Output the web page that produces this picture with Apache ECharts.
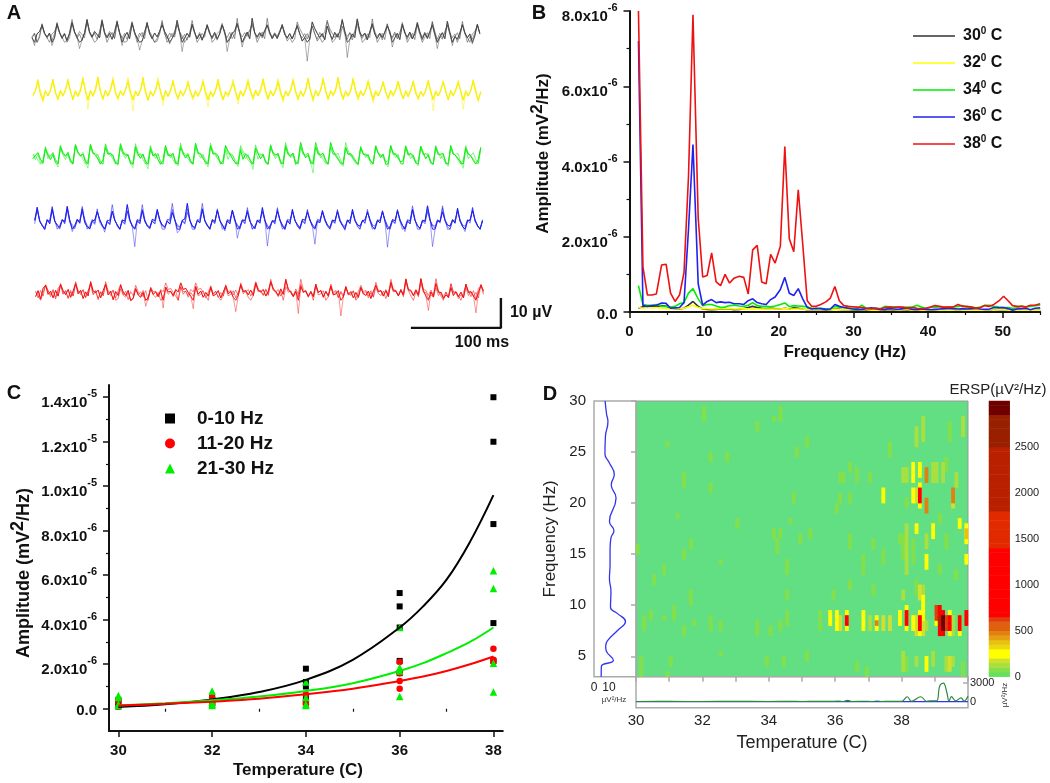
<!DOCTYPE html>
<html><head><meta charset="utf-8">
<style>html,body{margin:0;padding:0;background:#fff}#c{width:1050px;height:783px}#c canvas{filter:blur(.35px)}</style>
<script src="https://cdn.jsdelivr.net/npm/echarts@6/dist/echarts.min.js"></script>
</head><body><div id="c"></div>
<script>
// ---------- Panel A: voltage traces (uV around each baseline, one sample every sampleStepMs)
const sampleStepMs = 2.78;
const traceBlack = [-.8,-3.5,.4,1.2,3.2,.6,-.6,.7,-3.5,-.9,3.8,.9,-1.1,.4,-1.8,.5,4.2,1.0,-.7,-4.5,-1.6,.8,5.2,1.1,-.5,1.2,.2,-.9,4.8,.6,-.9,.6,-1.4,1.1,4.5,.8,-3.5,-.4,.9,-1.2,3.9,1.0,-1.0,-5.0,-2.0,.6,4.2,.4,-1.2,.7,-.6,1.3,3.4,1.2,-.3,-3.0,-1.1,.4,4.9,.9,-5.5,-1.0,.6,-.7,3.6,1.0,-1.3,.3,-1.7,.7,3.2,.5,-.8,.9,-1.2,.3,3.4,1.2,-5.5,-1.4,.5,1.4,3.9,.7,-4.0,-.6,1.0,-1.2,5.6,.8,-.6,.8,-.4,1.5,3.3,1.0,-1.2,.4,-1.0,.9,3.5,.2,-.9,.5,-1.3,.9,3.0,.6,-2.0,-.8,-8.7,-1.3,4.4,2.2,.6,-.8,.5,-1.6,3.0,.4,-1.4,.9,-.7,1.2,5.0,1.3,-7.5,-1.6,.4,-.8,5.4,1.0,-.4,.7,-1.6,1.1,3.8,.3,-1.1,.5,-.8,.9,3.0,1.2,-4.0,-.9,.6,-1.5,3.6,.7,-.7,1.0,-1.3,.4,4.2,1.1,-1.4,.6,-.9,1.2,3.4,.2,-4.5,-.7,.8,-1.2,4.6,.9,-3.5,-.5,-1.4,.7,3.4,.8,-.9,.4,-3.0,-.2,3.6,.4];
const traceYellow = [-.5,.8,3.8,-.4,-3.2,.6,-1.0,.7,4.6,.3,-1.8,.9,-.8,1.1,4.0,.6,-2.2,.3,-1.2,.6,4.8,.9,-5.4,.8,-.7,1.4,5.4,.4,-2.0,1.0,-1.1,.9,4.4,.2,-1.6,.5,-.6,1.2,3.6,-.2,-6.0,.7,-1.0,.8,5.2,.6,-2.4,.2,-.8,1.1,3.9,.7,-4.2,.9,-1.2,.5,4.2,.1,-1.8,.6,-.7,1.0,3.4,.5,-1.5,.8,-.9,.6,3.8,-.3,-4.6,.3,-1.3,.9,4.6,.8,-2.2,.4,-.6,1.2,3.2,.2,-3.8,.6,-1.1,.7,4.0,.5,-1.4,1.0,-.8,1.3,4.8,.9,-2.0,.5,-1.0,.5,3.6,-.1,-3.2,.7,-.7,1.1,4.2,.6,-1.6,.3,-1.2,.8,5.0,.4,-3.0,1.0,-.9,.9,4.4,.8,-1.8,.6,-.6,1.3,5.2,.2,-2.2,.4,-1.1,.6,4.6,.9,-1.4,.8,-.8,1.0,3.8,.5,-3.4,.2,-1.0,.7,3.4,.1,-1.6,.9,-.5,1.1,4.0,.7,-2.0,.5,-1.3,.8,3.6,-.2,-1.8,.6,-.7,.9,4.2,.8,-6.0,.3,-1.0,.6,3.8,.4,-2.2,.9,-.8,1.2,3.4,.6,-5.4,.5,-1.1,.8,4.4,.7,-3.0,.3];
const traceGreen = [-.6,.5,1.4,-.8,-2.0,2.6,.7,-.9,.8,-1.8,-3.4,3.4,1.2,.2,1.5,-1.0,-2.2,4.0,1.6,.4,.9,-1.6,-3.8,4.2,1.4,.6,-.7,-2.4,-1.0,3.2,.9,1.3,.2,-1.8,-2.8,4.4,1.8,.5,.7,-2.2,-3.6,3.4,1.0,-.5,.9,-1.4,-4.0,2.6,.3,1.1,-.9,-2.6,-1.2,3.8,.7,.3,1.2,-2.0,-3.0,3.2,1.4,-.4,.8,-1.2,-2.4,4.6,1.6,.9,-.6,-1.7,-3.4,3.6,.9,1.2,.4,-2.4,-1.4,3.8,1.9,.6,-1.0,-2.0,-3.2,2.2,-.8,1.0,.2,-1.2,-4.2,3.0,1.1,-.6,.8,-1.9,-2.6,4.0,1.3,.7,1.0,-1.5,-3.6,3.4,.8,.2,1.3,-2.6,-1.4,4.8,1.7,-.3,.6,-1.8,-5.4,3.4,.9,.7,1.2,-1.1,-2.4,4.8,2.0,.4,-.8,-2.2,-3.2,3.2,.8,1.1,-.4,-1.6,-2.8,3.0,1.0,.6,.5,-1.3,-2.2,3.6,1.4,-.2,.9,-2.4,-3.4,3.8,1.2,.8,-.5,-1.7,-1.2,3.2,.6,1.2,.3,-2.0,-3.0,3.6,1.5,-.6,.7,-1.5,-2.6,3.0,.8,.9,1.1,-2.2,-3.2,3.8,1.2,.4,-.7,-1.8,-3.8,2.8,.9,.4,-1.2,-2.4,-.9,3.2];
const traceBlue = [.5,4.9,.2,-1.2,-2.6,.8,-.6,4.2,.3,-1.0,-1.8,.6,.2,5.2,.7,-3.2,-1.2,.9,-.4,4.4,-.2,-1.6,-2.2,.4,.6,3.4,.8,-1.1,-3.4,.2,-.8,3.6,.5,-.9,-2.4,.7,.3,5.8,.9,-1.5,-8.2,.4,-.5,3.8,.2,-1.3,-2.0,.9,.4,4.2,.6,-1.0,-1.6,.3,-.7,3.2,.8,-3.6,-2.8,.6,1.0,6.2,.7,-1.4,-1.8,.5,-.3,4.4,.3,-1.2,-2.4,.8,.2,3.8,.5,-.9,-3.0,.4,-.6,4.0,.9,-5.4,-1.6,.7,.5,3.4,.2,-1.1,-2.2,.6,-.4,4.8,.6,-8.0,-1.4,.3,.3,3.6,.8,-1.3,-2.6,.5,-.7,4.2,.4,-.8,-2.0,.9,.6,3.2,.7,-1.5,-7.4,.2,-.2,3.8,.9,-1.0,-1.8,.6,.4,3.4,.3,-1.2,-2.8,.7,-.5,4.2,.6,-.9,-1.4,.4,.7,3.2,.8,-1.6,-2.4,.5,-.3,3.6,.2,-8.4,-1.6,.8,.4,3.8,.7,-1.1,-3.2,.3,-.6,4.2,.5,-1.3,-2.0,.6,.3,5.4,.9,-8.2,-2.6,.4,.1,3.4,.6,-1.0,-1.4,.8,-.4,4.6,.3,-1.5,-3.2,.5,.6,3.8,.7,-1.2,-2.4,.4];
const traceRed = [-1.2,.8,-2.0,1.6,2.6,-.4,.6,-1.6,.9,-1.0,2.8,.8,-.5,1.2,-1.4,.7,3.2,-.2,.9,-1.8,.4,-.9,3.8,.7,.2,1.0,-1.6,.8,3.0,-.6,.6,-2.2,.5,-.8,2.6,.4,-.8,.9,-2.6,-1.8,1.4,-.6,-1.4,.2,-4.4,-1.6,1.6,-.4,.4,-1.2,.8,-5.0,2.0,.4,.6,-.8,1.2,.4,3.4,1.2,1.6,.2,-1.0,-5.2,2.2,-.4,.7,-1.4,.2,-1.0,1.8,-.9,-.4,.8,-1.6,.3,2.4,-.2,.5,-1.4,-6.2,-.8,2.8,.4,.9,-.6,1.0,-.8,3.4,.9,.4,1.2,-1.0,.6,3.8,1.4,.6,-.8,1.4,-.4,4.6,1.2,.2,-1.2,.6,-6.8,2.2,.3,.7,-1.0,.4,-1.2,3.0,.2,.9,-1.4,.6,-.9,2.4,-.6,-.3,.8,-7.6,-1.2,2.0,-.4,.5,-1.6,.2,-1.4,1.8,-.2,-.8,.7,-1.8,.6,2.6,.4,.9,-1.0,.8,-1.2,3.6,.8,.6,-.9,1.2,-.6,4.6,1.2,.9,-.8,1.0,-.7,4.8,.8,-1.0,-5.8,.4,-1.2,3.2,.3,.2,-1.8,-.6,-1.4,1.8,-.8,.4,-1.2,.3,-1.6,3.0,.2,.5,-.9,-6.6,.2,2.6,.8];
const traceBaselinesUv = [103.3, 84, 62.7, 41, 17.3];
const traceStartMs = [0, 1, 1, 3, 4];
const scaleBarMs = [421, 521, 521];
const scaleBarUv = [5.7, 5.7, 15.7];

// ---------- Panel B: power spectra (x 10^-6 mV2/Hz)
const specFreq = [1.2,1.8,2.4,3.0,3.6,4.3,4.9,5.5,6.1,6.7,7.3,7.9,8.5,9.2,9.8,10.4,11.0,11.6,12.2,12.8,13.4,14.0,14.7,15.3,15.9,16.5,17.1,17.7,18.3,18.9,19.5,20.2,20.8,21.4,22.0,22.6,23.2,23.8,24.4,25.0,25.6,26.3,26.9,27.5,28.1,28.7,29.3,29.9,30.5,31.1,31.7,32.4,33.0,33.6,34.2,34.8,35.4,36.0,36.6,37.2,37.9,38.5,39.1,39.7,40.3,40.9,41.5,42.1,42.7,43.3,44.0,44.6,45.2,45.8,46.4,47.0,47.6,48.2,48.8,49.5,50.1,50.7,51.3,51.9,52.5,53.1,53.7,54.3,55.0];
const spec30 = [.1,.14,.13,.15,.14,.17,.16,.1,.09,.08,.1,.18,.28,.15,.08,.07,.06,.07,.08,.09,.08,.06,.07,.09,.12,.15,.12,.1,.09,.1,.09,.08,.1,.08,.11,.1,.08,.06,.07,.06,.06,.05,.06,.08,.07,.06,.06,.05,.05,.06,.05,.05,.05,.04,.05,.06,.05,.05,.06,.05,.05,.05,.05,.05,.05,.06,.05,.06,.05,.05,.06,.05,.05,.06,.05,.05,.05,.05,.06,.06,.07,.05,.04,.05,.05,.05,.04,.05,.05];
const spec32 = [.12,.1,.12,.11,.12,.1,.09,.08,.09,.09,.1,.14,.18,.12,.09,.09,.08,.08,.09,.09,.09,.08,.08,.09,.08,.09,.08,.08,.08,.08,.08,.08,.09,.08,.08,.08,.08,.07,.06,.06,.06,.06,.06,.07,.06,.06,.06,.06,.06,.06,.06,.05,.05,.05,.06,.06,.06,.05,.06,.06,.05,.06,.05,.05,.05,.06,.05,.05,.05,.05,.06,.05,.05,.05,.05,.05,.05,.06,.05,.06,.06,.05,.05,.05,.05,.05,.05,.05,.05];
const spec34 = [.7,.2,.18,.18,.2,.15,.15,.13,.15,.22,.25,.5,.62,.35,.17,.2,.2,.16,.12,.13,.17,.18,.16,.15,.18,.25,.17,.15,.15,.14,.16,.2,.24,.14,.17,.16,.15,.14,.1,.08,.1,.08,.08,.15,.13,.12,.1,.1,.09,.18,.1,.08,.1,.09,.15,.14,.14,.13,.12,.13,.13,.18,.13,.1,.12,.13,.14,.12,.13,.13,.15,.17,.12,.13,.11,.13,.18,.18,.15,.13,.12,.12,.1,.11,.16,.14,.15,.17,.18];
const spec36 = [7.2,.17,.15,.17,.18,.24,.23,.1,.11,.12,.25,2.2,4.45,.75,.18,.28,.33,.25,.27,.25,.26,.22,.22,.2,.3,.35,.25,.22,.2,.33,.4,.6,.92,.5,.44,.62,.35,.12,.08,.1,.09,.07,.08,.2,.15,.12,.1,.08,.07,.07,.09,.11,.09,.06,.07,.09,.08,.07,.09,.1,.07,.07,.08,.07,.06,.07,.08,.09,.1,.09,.08,.09,.08,.09,.1,.08,.07,.08,.12,.11,.12,.09,.05,.08,.09,.1,.06,.1,.11];
const spec38 = [8.0,1.2,.45,.45,.48,1.25,1.27,.5,.28,.45,1.05,3.6,7.9,2.5,.93,.97,1.57,.8,.7,1.0,.77,.9,.95,.92,.48,1.65,1.77,.8,.75,1.53,1.3,1.75,4.4,1.95,1.6,3.25,1.8,.3,.15,.15,.2,.27,.37,.68,.3,.17,.15,.14,.13,.12,.1,.09,.1,.08,.12,.13,.12,.13,.13,.1,.12,.1,.09,.1,.13,.17,.15,.13,.13,.13,.2,.15,.15,.13,.1,.12,.17,.15,.2,.3,.42,.3,.17,.15,.15,.13,.18,.18,.22];
const specNames = ['30° C','32° C','34° C','36° C','38° C'];
const specColors = ['#333333','#ffff00','#00ee00','#2222ee','#ee1111'];
const bMajorY = [0,2,4,6,8], bMinorY = [1,3,5,7];
const bMajorX = [0,10,20,30,40,50], bMinorX = [5,15,25,35,45,55];

// ---------- Panel C: band amplitude (x 10^-6 mV2/Hz)
const band0Points = [[30,.4],[30,.3],[30,.1],[32,.5],[32,.4],[32,.3],[32,.2],[34,1.8],[34,1.2],[34,1.0],[34,.5],[34,.3],[36,5.2],[36,4.6],[36,3.65],[36,2.15],[36,1.6],[38,14],[38,12],[38,8.3],[38,3.85],[38,2.15]];
const band1Points = [[30,.4],[30,.35],[30,.1],[32,.5],[32,.3],[32,.2],[34,.65],[34,.3],[34,.2],[36,2.1],[36,1.6],[36,1.25],[36,.9],[38,2.7],[38,2.2],[38,2.1]];
const band2Points = [[30,.6],[30,.5],[30,.2],[30,.15],[32,.8],[32,.3],[32,.2],[32,.15],[34,1.2],[34,.5],[34,.2],[34,.15],[36,3.65],[36,1.85],[36,1.7],[36,.55],[38,6.2],[38,5.4],[38,2.05],[38,.75]];
const fitTemp = [30,31,32,33,34,35,36,36.5,37,37.5,38];
const fit0 = [.08,.2,.42,.75,1.3,2.2,3.65,4.6,5.8,7.5,9.6];
const fit1 = [.15,.22,.32,.45,.65,.9,1.25,1.45,1.7,2.0,2.35];
const fit2 = [.15,.25,.38,.55,.8,1.15,1.7,2.05,2.5,3.0,3.65];
const cMajorY = [0,2,4,6,8,10,12,14], cMinorY = [1,3,5,7,9,11,13];
const cMajorX = [30,32,34,36,38], cMinorX = [31,33,35,37];

// ---------- Panel D: ERSP map; [temperature, freq low, freq high, uV2/Hz]
const ersp = [
[32.0,28,29.3,60],[34.3,28.4,29.2,60],[33.6,27.2,28,60],[34.1,28,28.4,60],[30.9,25.6,26,60],[32.2,24.2,25,60],[32.7,24.2,24.7,60],[31.4,21.8,22.6,60],[32.2,21.2,21.8,60],[31.2,18.5,19,60],[33.0,17.6,18.3,60],[34.1,16.8,17.4,60],[34.3,16.7,17.4,60],[34.2,15.4,16.1,60],[31.6,15.5,16.4,60],[31.4,14.6,15.5,60],[30.0,15,15.9,60],[32.5,14.1,14.5,60],[30.8,13.1,13.7,60],[30.5,12.1,12.7,60],[31.6,11.1,11.5,60],[31.6,10.4,10.6,60],[34.5,10.7,11.3,60],[34.5,13.4,14.3,60],[34.6,18,18.4,60],[31.1,8.5,9.7,60],[30.4,8.9,9.5,60],[30.2,7.9,8.7,60],[30.8,8.7,9,60],[31.4,7.1,7.9,60],[31.7,8.1,8.4,60],[32.2,7.7,8.6,60],[32.5,7.9,8.3,60],[33.6,7.2,8.5,60],[34.0,7,7.8,60],[34.3,7.5,8.5,60],[34.5,8,9.3,60],[32.5,5.1,5.5,60],[33.9,4,4.7,60],[34.4,4.3,5,60],[31.0,4,4.6,60],[30.1,3.1,4.7,60],[30.9,3.1,3.4,60],
[34.8,24.7,25.5,60],[35.1,25.9,26.5,60],[37.6,24.7,26,60],[38.4,25.7,27.3,120],[38.6,26.4,28.3,120],[39.4,26,28,90],[39.8,26.5,28.1,120],[36.4,23.3,23.9,60],[36.1,22,22.8,60],[36.2,22,23,60],[36.6,22,23.2,60],[37.0,22.2,23,60],[36.0,19.4,20,60],[36.4,20.2,21,60],[36.1,20.4,21,60],[34.7,20.4,21,60],[35.2,16.9,17.5,60],[34.9,16.2,16.7,60],[36.4,15.8,16.7,60],[37.1,15.9,16.4,60],[37.4,14.2,15.2,60],[36.8,13.4,14.6,60],[36.4,11.9,12.5,60],[35.9,10.6,11.5,60],[37.1,11.3,11.9,60],[35.1,4.6,5.2,60],[36.6,3.8,4.2,60],[36.9,3.3,3.9,60],
[35.5,7.6,9.2,90],[35.8,8,9.2,220],[36.0,7.9,9.1,230],[36.1,7.9,9,170],[36.3,7.6,9.2,230],[36.3,8,8.9,900],[36.8,7.9,9.2,230],[37.0,7.9,8.8,130],[37.2,7.6,8.6,240],[37.2,8,8.3,450],[37.4,7.9,9,150],[37.6,7.9,9,170],[37.9,8,9.2,230],
[38.1,7.7,9.6,230],[38.1,8.2,9.3,950],[38.3,7.6,9,230],[38.4,7.3,9,170],[38.5,7,9.2,230],[38.5,7.9,9,950],[38.6,8.7,10.9,230],[38.6,7.4,8.3,170],[38.7,7.7,8.4,120],
[39.0,8.5,9.6,650],[39.0,8.2,8.6,230],[39.1,7,9.6,950],[39.1,8,9,1800],[39.2,7,9.3,950],[39.2,7.6,8.7,2900],[39.3,7.6,8.7,600],[39.4,7.3,9.1,230],[39.4,7.9,8.8,950],[39.7,7.3,8.9,230],[39.7,7.8,8.6,950],[39.9,8,9.1,950],[39.5,7.4,8.6,130],
[38.0,3.6,5.1,120],[38.1,3.8,4.6,90],[38.4,4,5,120],[38.7,3.9,4.9,230],[38.9,4.2,5.2,110],[39.3,3.7,4.9,120],[39.4,3.7,4.9,150],[39.5,4,4.8,120],[39.8,3.4,4.5,90],
[37.4,20.2,21.4,240],[38.3,20.4,21.2,240],[38.4,20.1,21.2,170],[38.5,19.6,21.7,230],[38.5,20.1,21.4,950],[38.7,19.4,20.2,450],[38.3,22.2,23.6,230],[38.5,22.7,23.6,230],[38.7,22.2,23.5,450],[39.5,20.1,21.4,450],[39.5,19.5,20.2,170],[38.4,17.1,17.7,240],[38.9,16.9,17.8,240],[39.7,17.7,18.5,240],[39.9,16.2,18,230],[39.9,16.9,17.5,350],[38.7,13.9,14.9,240],[39.9,14,14.9,240],
[38.0,22.4,23.5,120],[38.1,22.2,23.5,120],[38.9,22.4,23.9,120],[39.0,22.2,24,120],[39.2,22.4,23.9,130],[39.3,23,24.2,90],[39.6,21.8,22.8,120],[38.1,19.7,20.5,90],[38.7,15.6,16.6,120],[38.1,13.3,17.8,120],[38.0,14.6,17,90],[37.9,16,17,90],[38.3,14,16.2,90],[39.1,18,19,90],[39.3,15.5,16.6,90],[39.1,13,14,90],[38.5,10.8,11.9,150],[38.6,10.9,11.6,120],[38.0,10.7,11.5,110],[38.4,11.4,12.2,90],[39.6,12.6,13.5,90]
];
const freqMarginal = [[4.8,3],[4.9,4],[12.9,4.6],[8,5.6],[7.8,6],[8.9,6.5],[15.5,7.5],[21,8.4],[15.5,9.2],[11,9.8],[11.3,11.4],[10.3,12.6],[10.7,14],[10.7,15.5],[11.3,16.6],[13.3,17.3],[10.3,18.2],[14.7,20.5],[11.5,21.8],[13.5,22.8],[10,24],[7.3,24.8],[7.6,26.5],[9.3,28],[8.4,28.7],[7.4,30]];
const tempMarginal = [[30,30],[31,35],[32,30],[33,40],[34,30],[34.6,40],[35,30],[35.5,40],[35.8,40],[36.1,90],[36.25,30],[36.37,220],[36.5,30],[36.9,70],[37.1,30],[37.27,110],[37.4,30],[37.6,50],[38,40],[38.17,780],[38.3,60],[38.58,780],[38.75,70],[38.85,140],[39.05,120],[39.15,2500],[39.26,2950],[39.36,1500],[39.43,80],[39.5,800],[39.63,120],[39.79,600],[39.88,100],[40,900]];
const tempFlat = [[30,0],[40,0]];
const ersColorBands = [[0,50,'#66e05a'],[50,100,'#84e04a'],[100,150,'#a8e040'],[150,190,'#d0e030'],[190,290,'#ffff00'],[290,340,'#ecd810'],[340,390,'#e8c010'],[390,450,'#e4a010'],[450,520,'#e28010'],[520,590,'#e06010'],[590,660,'#e03c10'],[660,1420,'#ff0000'],[1420,1790,'#e22a00'],[1790,2490,'#b82000'],[2490,2830,'#982000'],[2830,3000,'#700000']];
const dFreqTicks = [5,10,15,20,25,30], dTempTicks = [30,32,34,36,38], dTempMinor = [30,31,32,33,34,35,36,37,38,39,40];
const barTicks = [0,500,1000,1500,2000,2500];

// ---------- Build
const SANS = '"Liberation Sans", Arial, sans-serif';
const grids = [
 {left:32, top:0, width:477, height:345},                    // 0 A
 {left:629.5, top:11, width:410.7, height:301},              // 1 B
 {left:109, top:385, width:393.8, height:346},               // 2 C
 {left:636, top:401, width:332, height:275.7, show:true, backgroundColor:'#62df82', borderColor:'#999', borderWidth:1}, // 3 D main
 {left:594, top:401, width:42, height:275.7, show:true, borderColor:'#aaa', borderWidth:1.5},  // 4 D left
 {left:636, top:676.7, width:332, height:31, show:true, borderColor:'#aaa', borderWidth:1.5},  // 5 D bottom
 {left:989, top:401, width:20.7, height:275.7}               // 6 colorbar
];
const xAxes = [], yAxes = [];
const richBold = {a:{fontFamily:SANS,fontWeight:'bold',fontSize:15,color:'#111',verticalAlign:'bottom',height:15}, s:{fontFamily:SANS,fontWeight:'bold',fontSize:11,color:'#111',verticalAlign:'top',height:11,padding:[0,0,11,0]}};
const nameRich = size => ({n:{fontFamily:SANS,fontWeight:'bold',fontSize:size,color:'#111',verticalAlign:'bottom',height:size},u:{fontFamily:SANS,fontWeight:'bold',fontSize:size,color:'#111',verticalAlign:'top',height:size,padding:[0,0,6,0]}});
const sciLabel = exp => v => {
  if (v === 0) return '{a|0.0}';
  const m = exp === -5 && v >= 10 ? [(v/10).toFixed(1), -5] : [v.toFixed(1), -6];
  return '{a|' + m[0] + 'x10}{s|' + m[1] + '}';
};
function boldAxes(list, grid, pos, min, max, major, minor, extra) {
  list.push({type:'value', gridIndex:grid, position:pos, min, max, splitLine:{show:false}, axisLine:{show:false},
    axisLabel:{show:false}, axisTick:{show:true, customValues:minor, length:3, lineStyle:{color:'#111',width:1.2}}});
  list.push(Object.assign({type:'value', gridIndex:grid, position:pos, min, max, splitLine:{show:false},
    axisLine:{show:true, onZero:false, lineStyle:{color:'#111',width:2}},
    axisTick:{show:true, customValues:major, length:6, lineStyle:{color:'#111',width:1.5}}}, extra));
  return list.length - 1;
}
// A
xAxes.push({type:'value', gridIndex:0, min:0, max:530, show:false});
yAxes.push({type:'value', gridIndex:0, min:0, max:115, show:false});
// B
const bx = boldAxes(xAxes,1,'bottom',0,55,bMajorX,bMinorX,{
  axisLabel:{customValues:bMajorX, color:'#111', fontFamily:SANS, fontWeight:'bold', fontSize:15, margin:12},
  name:'Frequency (Hz)', nameLocation:'middle', nameGap:32,
  nameTextStyle:{fontFamily:SANS,fontWeight:'bold',fontSize:17,color:'#111',padding:[0,0,0,20]}});
const by = boldAxes(yAxes,1,'left',0,8,bMajorY,bMinorY,{
  axisLabel:{customValues:bMajorY, margin:12, padding:[5,0,0,0], formatter:sciLabel(-6), rich:richBold},
  name:'{n|Amplitude (mV}{u|2}{n|/Hz)}', nameLocation:'middle', nameGap:78,
  nameTextStyle:{padding:[0,0,0,16], rich:nameRich(17)}});
// C
const cx = boldAxes(xAxes,2,'bottom',29.8,38.2,cMajorX,cMinorX,{
  axisLabel:{customValues:cMajorX, color:'#111', fontFamily:SANS, fontWeight:'bold', fontSize:15, margin:12},
  name:'Temperature (C)', nameLocation:'middle', nameGap:31,
  nameTextStyle:{fontFamily:SANS,fontWeight:'bold',fontSize:17,color:'#111',padding:[0,16,0,0]}});
const cy = boldAxes(yAxes,2,'left',-1,14.55,cMajorY,cMinorY,{
  axisLabel:{customValues:cMajorY, margin:12, padding:[5,0,0,0], formatter:sciLabel(-5), rich:richBold},
  name:'{n|Amplitude (mV}{u|2}{n|/Hz)}', nameLocation:'middle', nameGap:76,
  nameTextStyle:{padding:[0,30,0,0], rich:nameRich(18)}});
// D main: hidden category bins for the cells, value axes for ticks
const tempBins = [], freqBins = [];
for (let i = 0; i < 100; i++) tempBins.push(i);
for (let i = 0; i < 54; i++) freqBins.push(i);
const grayTick = {show:true, length:5, lineStyle:{color:'#aaa',width:1.5}};
xAxes.push({type:'category', gridIndex:3, position:'bottom', data:tempBins, show:false});  const dxCat = xAxes.length-1;
yAxes.push({type:'category', gridIndex:3, position:'left', data:freqBins, show:false});  const dyCat = yAxes.length-1;
xAxes.push({type:'value', gridIndex:3, position:'bottom', min:30, max:40, splitLine:{show:false}, axisLine:{show:false}, axisLabel:{show:false}, axisTick:Object.assign({customValues:dTempMinor},grayTick)});
yAxes.push({type:'value', gridIndex:3, position:'left', min:3, max:30, splitLine:{show:false}, axisLine:{show:false}, axisLabel:{show:false}, axisTick:Object.assign({customValues:dFreqTicks},grayTick)});
// D left marginal
xAxes.push({type:'value', gridIndex:4, position:'bottom', min:0, max:28, splitLine:{show:false}, axisLine:{show:false}, axisTick:{show:false},
  axisLabel:{customValues:[0,10], color:'#222', fontFamily:SANS, fontSize:12, margin:5}}); const lx = xAxes.length-1;
yAxes.push({type:'value', gridIndex:4, position:'left', min:3, max:30, splitLine:{show:false}, axisLine:{show:false}, axisTick:{show:false},
  axisLabel:{customValues:dFreqTicks, color:'#222', fontFamily:SANS, fontSize:15, margin:8},
  name:'Frequency (Hz)', nameLocation:'middle', nameGap:35, nameTextStyle:{fontFamily:SANS,fontSize:17,color:'#222'}}); const ly = yAxes.length-1;
// D bottom marginal
xAxes.push({type:'value', gridIndex:5, position:'bottom', min:30, max:40, splitLine:{show:false}, axisLine:{show:false}, axisTick:{show:false},
  axisLabel:{customValues:dTempTicks, color:'#222', fontFamily:SANS, fontSize:15, margin:6},
  name:'Temperature (C)', nameLocation:'middle', nameGap:26, nameTextStyle:{fontFamily:SANS,fontSize:18,color:'#222'}}); const ux = xAxes.length-1;
yAxes.push({type:'value', gridIndex:5, position:'right', min:-950, max:3950, splitLine:{show:false}, axisLine:{show:false},
  axisTick:{show:true, inside:true, customValues:[3000], length:5, lineStyle:{color:'#aaa',width:1.5}},
  axisLabel:{customValues:[0,3000], color:'#222', fontFamily:SANS, fontSize:11, margin:2, formatter:v=>String(v)}}); const uy = yAxes.length-1;
// colorbar
const barBins = [], barData = [];
for (let i = 0; i < 60; i++) { barBins.push(i); barData.push([0, i, i*50+25]); }
xAxes.push({type:'category', gridIndex:6, data:['ERSP'], show:false}); const bcx = xAxes.length-1;
yAxes.push({type:'category', gridIndex:6, position:'left', data:barBins, show:false}); const bcy = yAxes.length-1;
yAxes.push({type:'value', gridIndex:6, position:'right', min:0, max:3000, splitLine:{show:false}, axisLine:{show:false}, axisTick:{show:false},
  axisLabel:{customValues:barTicks, color:'#222', fontFamily:SANS, fontSize:11, margin:5, formatter:v=>String(v)}});

// series
const series = [];
const rot = (a,n)=>a.slice(n).concat(a.slice(0,n));
const addTrace = (vals, k, col, op, w) => series.push({type:'line', name:'trace'+k, xAxisIndex:0, yAxisIndex:0, symbol:'none', silent:true,
  lineStyle:{color:col, width:w, opacity:op}, data: vals.map((v,i)=>[traceStartMs[k]+i*sampleStepMs, traceBaselinesUv[k]+v])});
[traceBlack,traceYellow,traceGreen,traceBlue,traceRed].forEach((t,k)=>{
  const col = ['#444444','#f8f000','#10ee10','#1a1aee','#f01010'][k];
  const core = t.map(v=>Math.max(v,-2.4));
  addTrace(t,k,col,.55,.8); addTrace(rot(core,6),k,col,.6,.9); addTrace(rot(core,174),k,col,.6,.9); addTrace(core,k,col,.95,1);
});
series.push({type:'line', name:'scale', xAxisIndex:0, yAxisIndex:0, symbol:'none', silent:true, lineStyle:{color:'#111',width:2.4},
  data: scaleBarMs.map((m,i)=>[m,scaleBarUv[i]])});
[spec30,spec32,spec34,spec36,spec38].forEach((s,k)=>series.push({type:'line', name:specNames[k], xAxisIndex:bx, yAxisIndex:by, symbol:'none',
  color:specColors[k], lineStyle:{color:specColors[k], width:1.6}, clip:true, data:s.map((v,i)=>[specFreq[i],v])}));
const pts = (name,sym,size,col,data)=>series.push({type:'scatter', name, xAxisIndex:cx, yAxisIndex:cy, symbol:sym, symbolSize:size, color:col, itemStyle:{color:col,opacity:1}, data});
const fitLine = (ys,col)=>series.push({type:'line', name:'fit'+col, xAxisIndex:cx, yAxisIndex:cy, symbol:'none', smooth:.4, lineStyle:{color:col,width:2}, data:ys.map((v,i)=>[fitTemp[i],v])});
pts('0-10 Hz','rect',6,'#000',band0Points);
pts('11-20 Hz','circle',6.5,'#ff0000',band1Points);
pts('21-30 Hz','triangle',7.5,'#00ee00',band2Points);
fitLine(fit0,'#000'); fitLine(fit2,'#00ee00'); fitLine(fit1,'#ff0000');
// heat cells
const cells = [];
ersp.forEach(([t,lo,hi,v])=>{
  const ti = Math.floor((t-30)*10+1e-6), a = Math.floor((lo-3)*2), b = Math.max(a+1, Math.ceil((hi-3)*2));
  for (let i=a;i<b;i++) cells.push([ti,i,v]);
});
cells.sort((p,q)=>p[2]-q[2]);
const heatIdx = series.length;
series.push({type:'heatmap', name:'ERSP', xAxisIndex:dxCat, yAxisIndex:dyCat, data:cells, silent:true, progressive:0});
const barIdx = series.length;
series.push({type:'heatmap', name:'ERSP scale', xAxisIndex:bcx, yAxisIndex:bcy, data:barData, silent:true, progressive:0});
series.push({type:'line', name:'freq marginal', xAxisIndex:lx, yAxisIndex:ly, symbol:'none', smooth:.5, lineStyle:{color:'#3333ee',width:1.3}, data:freqMarginal});
series.push({type:'line', name:'flat', xAxisIndex:ux, yAxisIndex:uy, symbol:'none', lineStyle:{color:'#3333ee',width:1.3}, data:tempFlat});
series.push({type:'line', name:'temp marginal', xAxisIndex:ux, yAxisIndex:uy, symbol:'none', smooth:.4, lineStyle:{color:'#2a8a3a',width:1.2}, data:tempMarginal});

const txt = (text,x,y,font,fill,extra)=>Object.assign({type:'text',x,y,silent:true,style:{text,font,fill:fill||'#111',align:'center',verticalAlign:'middle'}},extra||{});
const B20 = 'bold 20px '+SANS;
const graphic = [
  txt('A',14,13,B20), txt('B',539,13,B20), txt('C',14,393,B20), txt('D',550,394,B20),
  txt('10 µV',531,313,'bold 16px '+SANS), txt('100 ms',482,343,'bold 16px '+SANS),
  txt('ERSP(µV²/Hz)',998,390,'15px '+SANS,'#222'),
  txt('µV²/Hz',614,700,'8px '+SANS,'#333'),
  txt('µV²/Hz',1005,695,'8px '+SANS,'#333',{rotation:Math.PI/2})
];

const chart = echarts.init(document.getElementById('c'), null, {renderer:'canvas'});
chart.setOption({
  animation:false, backgroundColor:'#fff',
  grid:grids, xAxis:xAxes, yAxis:yAxes, series, graphic,
  visualMap:{type:'piecewise', show:false, seriesIndex:[heatIdx,barIdx], dimension:2,
    pieces:ersColorBands.map(b=>({gte:b[0], lt:b[1], color:b[2]}))},
  legend:[
   {data:specNames, orient:'vertical', padding:0, left:913, top:26, itemWidth:42, itemHeight:14, itemGap:9, icon:'path://M0 0H42V1.5H0Z', selectedMode:false,
    formatter:n=>'{a|'+n.slice(0,2)+'}{s|0}{a| C}',
    textStyle:{padding:[0,0,0,3], rich:{a:{fontFamily:SANS,fontWeight:'bold',fontSize:16,color:'#111',height:20,verticalAlign:'bottom'},s:{fontFamily:SANS,fontWeight:'bold',fontSize:10,color:'#111',verticalAlign:'top',padding:[0,0,7,0]}}}},
   {data:['0-10 Hz','11-20 Hz','21-30 Hz'], orient:'vertical', padding:0, left:165, top:409, itemWidth:10, itemHeight:10, itemGap:6, selectedMode:false,
    textStyle:{fontFamily:SANS,fontWeight:'bold',fontSize:19,color:'#111',padding:[0,0,0,17]}}
  ]
});
</script></body></html>
